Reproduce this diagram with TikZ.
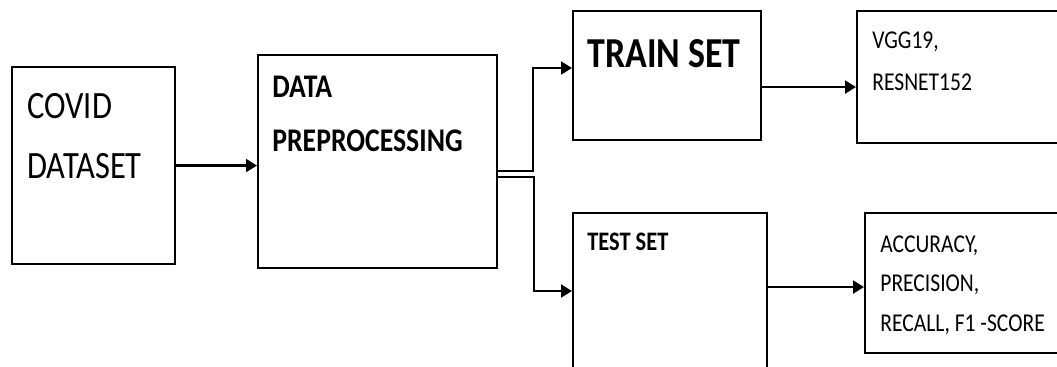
\documentclass[tikz,border=0pt]{standalone}
\usepackage{fontspec}
\setmainfont{Carlito}[FakeStretch=0.84]
\usetikzlibrary{arrows.meta}

\tikzset{
	box/.style={draw, line width=1.2pt, anchor=north west, inner sep=0pt},
	txt/.style={anchor=base west, inner sep=0pt},
	arr/.style={line width=1.2pt, -{Triangle[length=0.22cm,width=0.26cm]}},
}

\begin{document}
\begin{tikzpicture}[x=0.02cm,y=-0.02cm]
	\useasboundingbox (0,0) rectangle (1057,366);
	
	\node[box, minimum width=3.26cm, minimum height=3.94cm] (covid) at (11,66) {};
	\node[box, minimum width=4.78cm, minimum height=4.26cm] (prep) at (257,54) {};
	\node[box, minimum width=3.76cm, minimum height=2.58cm] (train) at (572,10) {};
	\node[box, minimum width=3.88cm, minimum height=3.2cm] (test) at (572,212) {};
	\node[box, minimum width=4.4cm, minimum height=2.64cm] (vgg) at (856,10) {};
	\node[box, minimum width=4.4cm, minimum height=2.8cm] (metric) at (864,212) {};
	
	\node[txt, font=\fontsize{22}{26}\selectfont] (covidA) at (27,118) {COVID};
	\node[txt, font=\fontsize{22}{26}\selectfont] (covidB) at (27,178) {DATASET};
	\node[txt, font=\fontsize{18.8}{22}\selectfont\bfseries] (prepA) at (272,97) {DATA};
	\node[txt, font=\fontsize{18.8}{22}\selectfont\bfseries] (prepB) at (272,151) {PREPROCESSING};
	\node[txt, font=\fontsize{24.3}{29}\selectfont\bfseries] (trainA) at (587,67) {TRAIN SET};
	\node[txt, font=\fontsize{15.2}{18}\selectfont\bfseries] (testA) at (587,250) {TEST SET};
	\node[txt, font=\fontsize{14.6}{17}\selectfont] (vggA) at (872,48) {VGG19,};
	\node[txt, font=\fontsize{14.6}{17}\selectfont] (vggB) at (872,90) {RESNET152};
	\node[txt, font=\fontsize{14.6}{17}\selectfont] (metricA) at (880,252) {ACCURACY,};
	\node[txt, font=\fontsize{14.6}{17}\selectfont] (metricB) at (880,291) {PRECISION,};
	\node[txt, font=\fontsize{14.6}{17}\selectfont] (metricC) at (880,331) {RECALL, F1 -SCORE};
	
	\coordinate (up) at (533,68);
	\coordinate (down) at (534,291);
	
	\draw[arr] (covid.east) -- (covid.east -| prep.west);
	\draw[arr] ([yshift=-0.19cm]prep.east) -| (up) -- (up -| train.west);
	\draw[arr] ([yshift=-0.31cm]prep.east) -| (down) -- (down -| test.west);
	\draw[arr] ([yshift=-0.23cm]train.east) -- ([yshift=-0.23cm]train.east -| vgg.west);
	\draw[arr] ([yshift=0.12cm]test.east) -- ([yshift=0.12cm]test.east -| metric.west);
\end{tikzpicture}
\end{document}
